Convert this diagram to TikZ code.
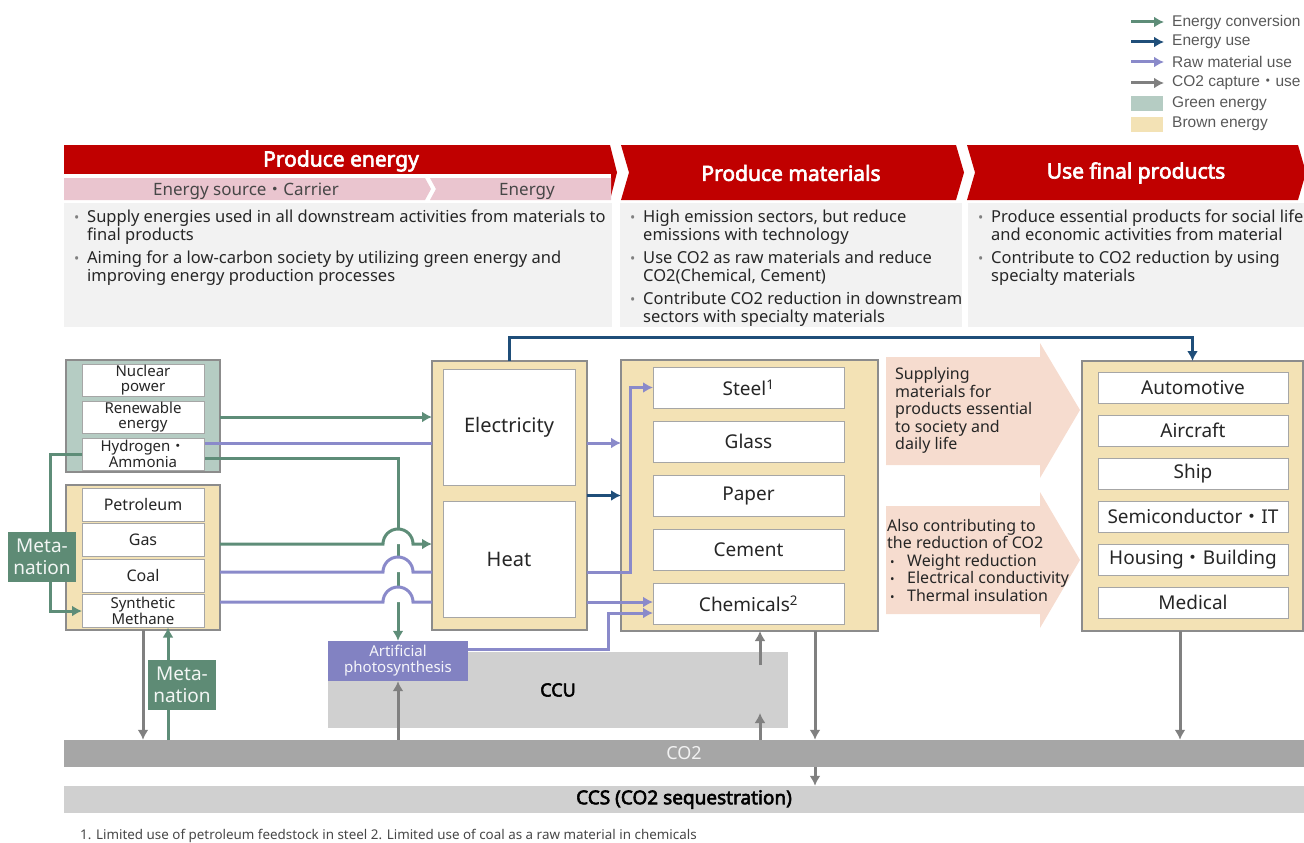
\documentclass[tikz,border=0pt]{standalone}
\usepackage{fontspec}
\setmainfont{Noto Sans}
\newfontfamily\hdfont{Noto Sans}[FakeBold=3]
\newfontfamily\legfont{Liberation Sans}
\newfontfamily\cjkfont{Noto Sans CJK JP}
\usetikzlibrary{arrows.meta,positioning}

\definecolor{redbar}{HTML}{C00000}
\definecolor{pinkbar}{HTML}{EAC5CF}
\definecolor{panelgray}{HTML}{F2F2F2}
\definecolor{greenfill}{HTML}{B5CCC3}
\definecolor{brownfill}{HTML}{F3E2B5}
\definecolor{grpborder}{HTML}{8C8C8C}
\definecolor{boxborder}{HTML}{A6A6A6}
\definecolor{conv}{HTML}{5E8D78}
\definecolor{euse}{HTML}{1F4E79}
\definecolor{rawc}{HTML}{8A8ACA}
\definecolor{capt}{HTML}{808080}
\definecolor{metafill}{HTML}{5E8B75}
\definecolor{apfill}{HTML}{8282C2}
\definecolor{ccugray}{HTML}{D0D0D0}
\definecolor{co2gray}{HTML}{A6A6A6}
\definecolor{peach}{HTML}{F6DCCF}
\definecolor{txt}{HTML}{262626}
\definecolor{legtxt}{HTML}{595959}
\definecolor{bulgray}{HTML}{808080}

\newcommand{\kdot}{{\cjkfont ・}}
\newcommand{\bul}{\makebox[13pt][l]{\color{bulgray}\fontsize{14}{14}\selectfont\textbullet}}
\newcommand{\pbul}{\hspace*{3pt}\makebox[17pt][l]{\fontsize{12}{12}\selectfont\textbullet}}
\newcommand{\cont}{\hspace*{13pt}}

\tikzstyle{grpbox}=[draw=grpborder,line width=2pt,inner sep=0pt,outer sep=0pt]
\tikzstyle{srcbox}=[draw=boxborder,fill=white,line width=0.8pt,minimum width=122pt,minimum height=32pt,inner sep=0pt,outer sep=0pt,align=center,text=txt,font=\fontsize{15}{14.5}\selectfont]
\tikzstyle{matbox}=[srcbox,minimum width=191pt,minimum height=41pt,font=\fontsize{19}{21}\selectfont]
\tikzstyle{prodbox}=[srcbox,minimum width=190pt,minimum height=31pt,font=\fontsize{19}{21}\selectfont]
\tikzstyle{metabox}=[fill=metafill,minimum width=68pt,minimum height=50pt,inner sep=0pt,align=center,text=white!92!metafill,font=\fontsize{19}{22}\selectfont]
\tikzstyle{desc}=[anchor=north west,inner sep=0pt,align=left,text=txt,font=\fontsize{16.5}{18}\selectfont]
\tikzstyle{legtext}=[anchor=west,inner xsep=8pt,inner ysep=0pt,text=legtxt,font=\legfont\fontsize{15.5}{17}\selectfont]
\tikzstyle{convline}=[draw=conv,line width=3pt,-{Latex[length=10pt,width=11pt]}]
\tikzstyle{useline}=[draw=euse,line width=3pt,-{Latex[length=10pt,width=11pt]}]
\tikzstyle{rawline}=[draw=rawc,line width=3pt,-{Latex[length=10pt,width=11pt]}]
\tikzstyle{captline}=[draw=capt,line width=3pt,-{Latex[length=10pt,width=11pt]}]

\begin{document}
\begin{tikzpicture}[x=1pt,y=-1pt]
\useasboundingbox (0,0) rectangle (1304,843);

% legend
\coordinate (lgs1) at (1131,22);
\coordinate (lgs2) at (1131,42);
\coordinate (lgs3) at (1131,62);
\coordinate (lgs4) at (1131,83);
\node[legtext] (lg1) at (1164,22) {Energy conversion};
\node[legtext] (lg2) at (1164,42) {Energy use};
\node[legtext] (lg3) at (1164,62) {Raw material use};
\node[legtext] (lg4) at (1164,83) {CO2 capture\kdot use};
\draw[convline] (lgs1) -- (lg1.west);
\draw[useline] (lgs2) -- (lg2.west);
\draw[rawline] (lgs3) -- (lg3.west);
\draw[captline] (lgs4) -- (lg4.west);
\node[fill=greenfill,minimum width=32pt,minimum height=15pt,inner sep=0pt] (lgsq1) at (1147,103.5) {};
\node[legtext] (lg5) at (1164,103.5) {Green energy};
\node[fill=brownfill,minimum width=32pt,minimum height=15pt,inner sep=0pt] (lgsq2) at (1147,124) {};
\node[legtext] (lg6) at (1164,124) {Brown energy};

% header banners
\fill[redbar] (64,145) -- (610,145) -- (617,172.5) -- (610,200) -- (64,200) -- cycle;
\fill[white] (64,174) rectangle (611,201);
\fill[pinkbar] (64,178) -- (425,178) -- (431,189) -- (425,200) -- (64,200) -- cycle;
\fill[pinkbar] (430,178) -- (611,178) -- (611,200) -- (430,200) -- (436,189) -- cycle;
\fill[redbar] (621,145) -- (956,145) -- (964,172.5) -- (956,200) -- (621,200) -- (629,172.5) -- cycle;
\fill[redbar] (967,145) -- (1298,145) -- (1306,172.5) -- (1298,200) -- (967,200) -- (975,172.5) -- cycle;
\node[text=white,font=\hdfont\fontsize{21}{24}\selectfont] (hdenergy) at (341,161) {Produce energy};
\node[text=txt!85,font=\fontsize{17}{20}\selectfont] (hdsource) at (246,191) {Energy source\kdot Carrier};
\node[text=txt!85,font=\fontsize{17}{20}\selectfont] (hdenergy2) at (527,191) {Energy};
\node[text=white,font=\hdfont\fontsize{21}{24}\selectfont] (hdmat) at (791,173) {Produce materials};
\node[text=white,font=\hdfont\fontsize{21}{24}\selectfont] (hdprod) at (1136,173) {Use final products};

% description panels
\fill[panelgray] (64,203) rectangle (612,327);
\fill[panelgray] (620,203) rectangle (962,327);
\fill[panelgray] (968,203) rectangle (1304,327);
\node[desc] (d1) at (74,210) {\bul Supply energies used in all downstream activities from materials to\\\cont final products\\[5pt]\bul Aiming for a low-carbon society by utilizing green energy and\\\cont improving energy production processes};
\node[desc] (d2) at (630,210) {\bul High emission sectors, but reduce\\\cont emissions with technology\\[5pt]\bul Use CO2 as raw materials and reduce\\\cont CO2(Chemical, Cement)\\[5pt]\bul Contribute CO2 reduction in downstream\\\cont sectors with specialty materials};
\node[desc] (d3) at (978,210) {\bul Produce essential products for social life\\\cont and economic activities from material\\[5pt]\bul Contribute to CO2 reduction by using\\\cont specialty materials};

% peach arrows
\fill[peach] (886,357) -- (1040,357) -- (1040,343) -- (1080,410) -- (1040,478) -- (1040,465) -- (886,465) -- cycle;
\fill[peach] (886,506) -- (1040,506) -- (1040,492) -- (1080,560) -- (1040,628) -- (1040,614) -- (886,614) -- cycle;
\node[anchor=west,inner sep=0pt,align=left,text=txt,font=\fontsize{16}{17.5}\selectfont] (pt1) at (895,410.5) {Supplying\\materials for\\products essential\\to society and\\daily life};
\node[anchor=west,inner sep=0pt,align=left,text=txt,font=\fontsize{16}{17.5}\selectfont] (pt2) at (887,560) {Also contributing to\\the reduction of CO2\\\pbul Weight reduction\\\pbul Electrical conductivity\\\pbul Thermal insulation};

% group boxes
\node[grpbox,fill=greenfill,minimum width=154pt,minimum height=112pt] (grngrp) at (143,416) {};
\node[grpbox,fill=brownfill,minimum width=154pt,minimum height=145pt] (brngrp) at (143,557.5) {};
\node[grpbox,fill=brownfill,minimum width=155pt,minimum height=269pt] (elecgrp) at (509.5,495.5) {};
\node[grpbox,fill=brownfill,minimum width=257pt,minimum height=271pt] (matgrp) at (749.5,495.5) {};
\node[grpbox,fill=brownfill,minimum width=221pt,minimum height=270pt] (prodgrp) at (1192.5,496) {};

% CCU, CO2, CCS
\node[fill=ccugray,minimum width=460pt,minimum height=76pt,inner sep=0pt,font=\hdfont\fontsize{18}{20}\selectfont,text=black] (ccu) at (558,690) {CCU};
\node[fill=co2gray,minimum width=1240pt,minimum height=27pt,inner sep=0pt,font=\fontsize{18}{20}\selectfont,text=white!85!co2gray] (co2) at (684,753.5) {CO2};
\node[fill=ccugray,minimum width=1240pt,minimum height=27pt,inner sep=0pt,font=\hdfont\fontsize{19}{21}\selectfont,text=black] (ccs) at (684,799.5) {CCS (CO2 sequestration)};
\node[fill=apfill,minimum width=140pt,minimum height=40pt,inner sep=0pt,align=center,text=white!92!apfill,font=\fontsize{15}{16}\selectfont] (ap) at (398,661) {Artificial\\photosynthesis};

% energy sources
\node[srcbox] (nuclear) at (143,380) {Nuclear\\power};
\node[srcbox,below=5pt of nuclear] (renewable) {Renewable\\energy};
\node[srcbox,below=5pt of renewable] (hydrogen) {Hydrogen\kdot\\Ammonia};
\node[srcbox,minimum height=33pt,font=\fontsize{16}{14.5}\selectfont] (petroleum) at (143,504.5) {Petroleum};
\node[srcbox,minimum height=33pt,font=\fontsize{16}{14.5}\selectfont,below=2.5pt of petroleum] (gas) {Gas};
\node[srcbox,minimum height=33pt,font=\fontsize{16}{14.5}\selectfont,below=2.5pt of gas] (coal) {Coal};
\node[srcbox,minimum height=33pt,below=2.5pt of coal] (synmeth) {Synthetic\\Methane};

% energy
\node[srcbox,minimum width=132pt,minimum height=116pt,font=\fontsize{20}{22}\selectfont] (elec) at (509,427) {Electricity};
\node[srcbox,minimum width=132pt,minimum height=116pt,font=\fontsize{20}{22}\selectfont] (heat) at (509,559) {Heat};

% materials
\node[matbox] (steel) at (748.5,387.5) {Steel\textsuperscript{1}};
\node[matbox,below=13pt of steel] (glass) {Glass};
\node[matbox,below=13pt of glass] (paper) {Paper};
\node[matbox,below=13pt of paper] (cement) {Cement};
\node[matbox,below=13pt of cement] (chem) {Chemicals\textsuperscript{2}};

% final products
\node[prodbox] (auto) at (1193,387.5) {Automotive};
\node[prodbox,below=12pt of auto] (aircraft) {Aircraft};
\node[prodbox,below=12pt of aircraft] (ship) {Ship};
\node[prodbox,below=12pt of ship] (semi) {Semiconductor\kdot IT};
\node[prodbox,below=12pt of semi] (housing) {Housing\kdot Building};
\node[prodbox,below=12pt of housing] (medical) {Medical};

% flows from sources
\coordinate (h2raw) at (205,443);
\coordinate (h2conv) at (205,458);
\coordinate (gasout) at (220,544);
\coordinate (coalout) at (220,572);
\coordinate (methout) at (220,602);
\draw[convline] (renewable.east -| grngrp.east) -- (renewable.east -| elecgrp.west);
\draw[rawline,-] (h2raw) -- (h2raw -| elecgrp.west);
\draw[convline] (h2conv) -| (ap.north);
\draw[convline] (hydrogen.west) -- ++(-32,0) |- (synmeth.west);
\fill[white] (383,544) arc[start angle=180,end angle=0,radius=15pt] -- cycle;
\draw[convline] (gasout) -- (383,544) arc[start angle=180,end angle=0,radius=15pt] -- (gasout -| elecgrp.west);
\fill[white] (383,572) arc[start angle=180,end angle=0,radius=15pt] -- cycle;
\draw[rawline,-] (coalout) -- (383,572) arc[start angle=180,end angle=0,radius=15pt] -- (coalout -| elecgrp.west);
\fill[white] (383,602) arc[start angle=180,end angle=0,radius=15pt] -- cycle;
\draw[rawline,-] (methout) -- (383,602) arc[start angle=180,end angle=0,radius=15pt] -- (methout -| elecgrp.west);

% flows into materials
\draw[rawline] (h2raw -| elecgrp.east) -- (h2raw -| matgrp.west);
\draw[useline] (elecgrp.east) -- (matgrp.west);
\draw[rawline] (coalout -| elecgrp.east) -- (630,572) |- (steel.west);
\draw[rawline] (methout -| elecgrp.east) -- (methout -| chem.west);
\coordinate (apout) at (468,649);
\draw[rawline] (apout) -- (608,649) |- (chem.west |- 0,613);
\draw[useline] (elecgrp.north) -- ++(0,-24) -| (prodgrp.north);

% CO2 capture and use
\coordinate (ccuin) at (760,713);
\coordinate (ccuout) at (760,665);
\coordinate (matx) at (815,631);
\coordinate (prodx) at (1180,631);
\coordinate (methx) at (168,740);
\draw[captline] (brngrp.south) -- (brngrp.south |- co2.north);
\draw[convline] (methx) -- (methx |- synmeth.south);
\draw[captline] (co2.north -| ap.south) -- (ap.south);
\draw[captline] (ccuin |- co2.north) -- (ccuin);
\draw[captline] (ccuout) -- (ccuout |- matgrp.south);
\draw[captline] (matx) -- (matx |- co2.north);
\draw[captline] (matx |- co2.south) -- (matx |- ccs.north);
\draw[captline] (prodx) -- (prodx |- co2.north);

% metanation labels
\node[metabox] (meta1) at (42,557) {Meta-\\nation};
\node[metabox] (meta2) at (182,685) {Meta-\\nation};

% footnote
\node[anchor=west,inner sep=0pt,text=txt!85,font=\fontsize{13.4}{15}\selectfont] (foot) at (80,836) {1. Limited use of petroleum feedstock in steel 2. Limited use of coal as a raw material in chemicals};
\end{tikzpicture}
\end{document}
